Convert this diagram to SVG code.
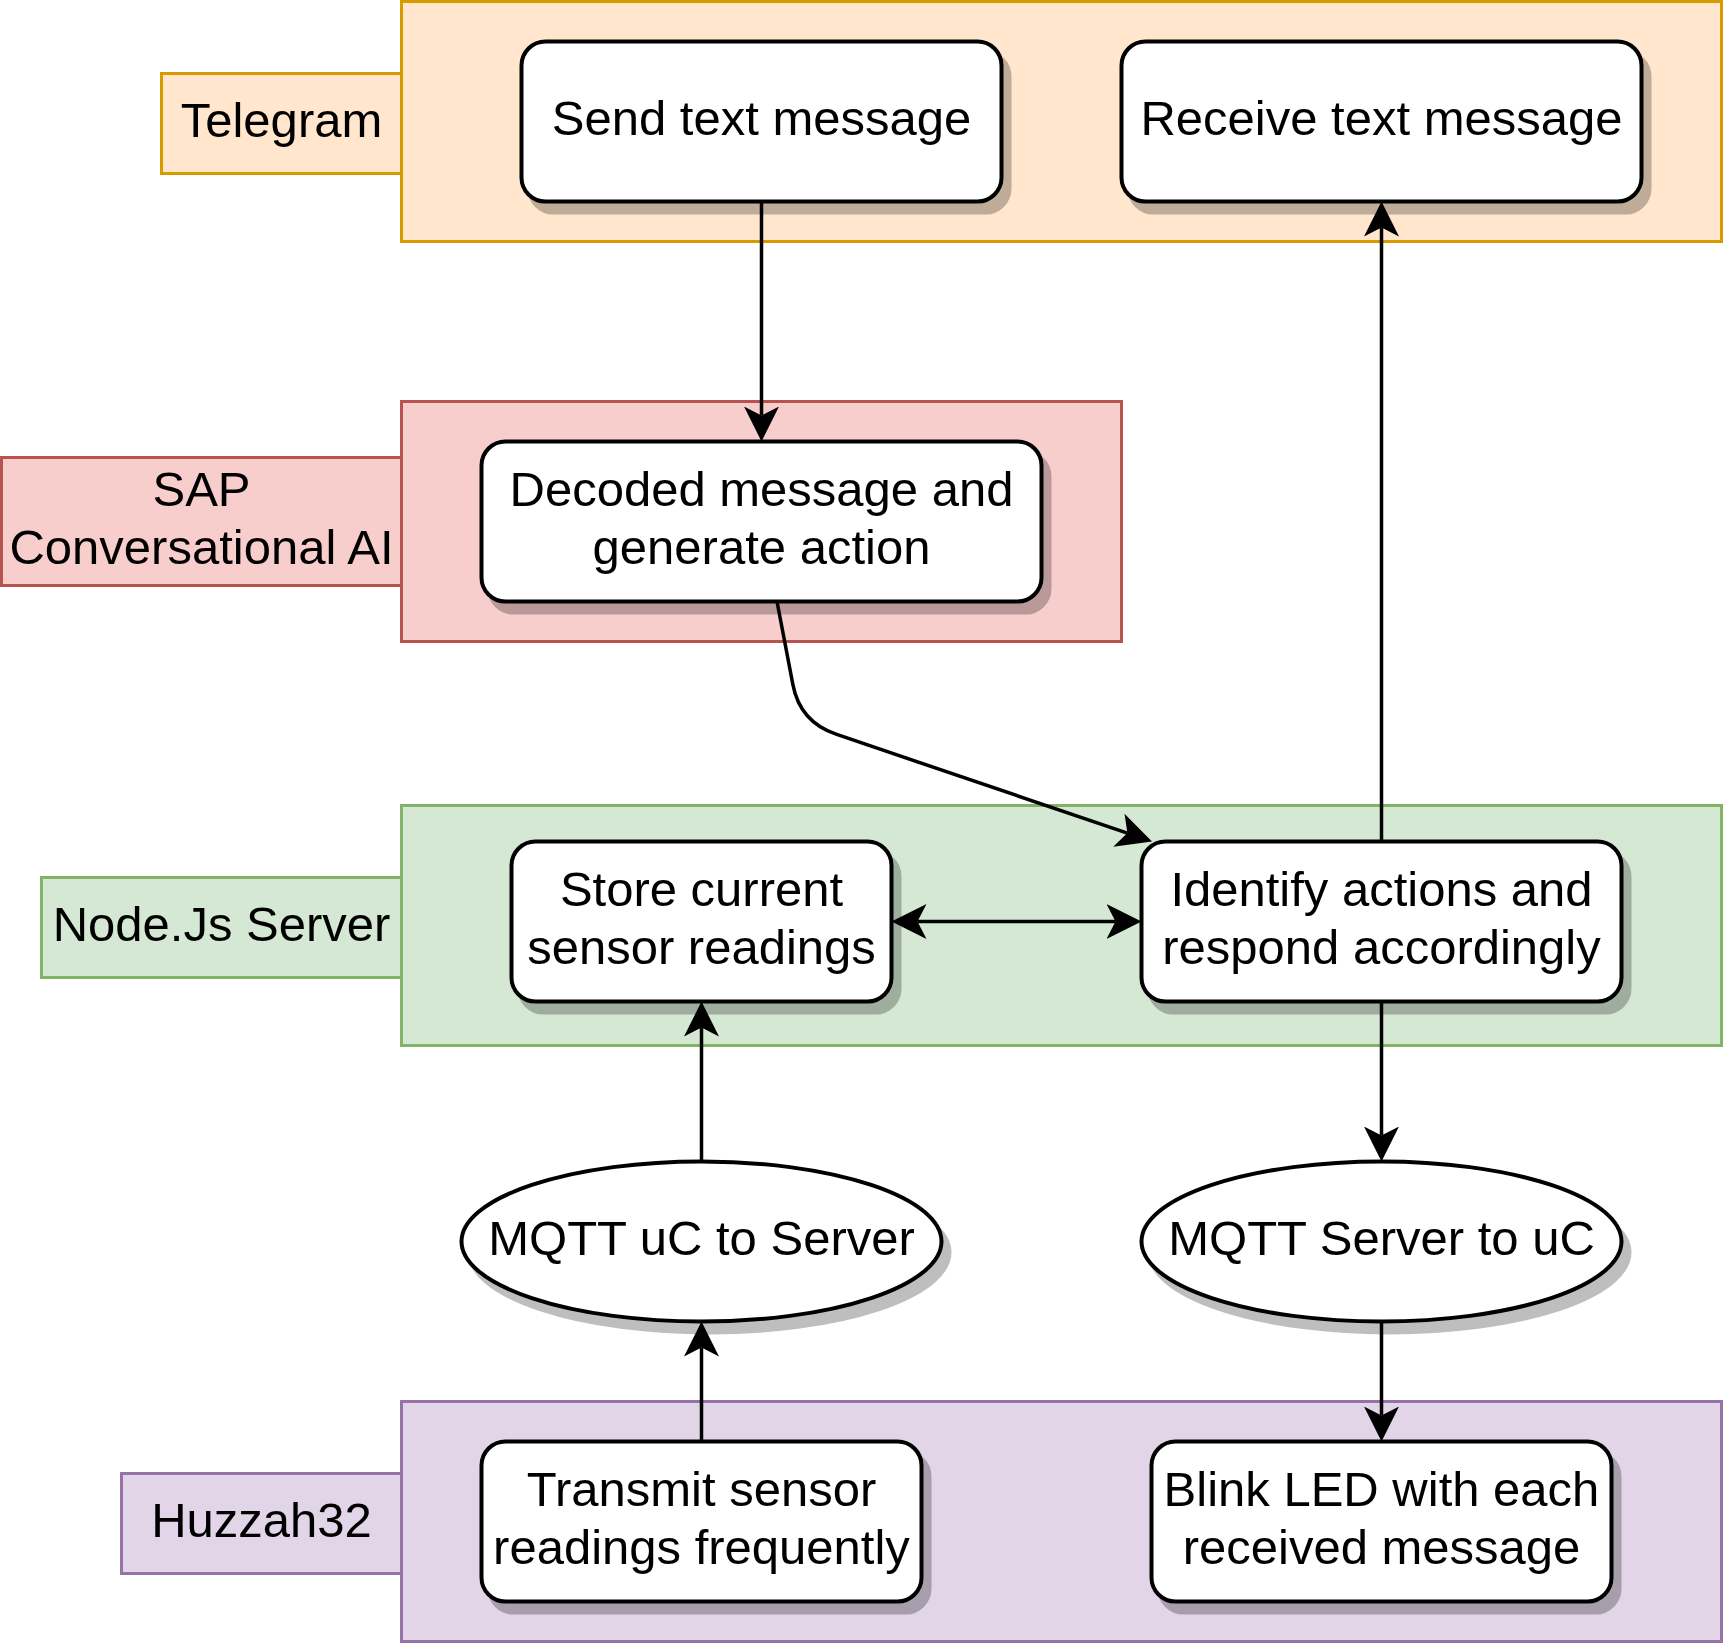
<svg xmlns="http://www.w3.org/2000/svg" width="1724" height="1648" viewBox="0 0 1724 1648">
<style>
.t{font-family:"Liberation Sans",Arial,Helvetica,sans-serif;font-size:49px;fill:#000;text-anchor:middle}
.box{fill:#fff;stroke:#000;stroke-width:4}
.sh{fill:#000;stroke:#000;stroke-width:4;opacity:.25}
.cont{stroke-width:3}
.or{fill:#ffe6cc;stroke:#d79b00}
.rd{fill:#f8cecc;stroke:#b85450}
.gr{fill:#d5e8d4;stroke:#82b366}
.pu{fill:#e1d5e7;stroke:#9673a6}
.edge{fill:none;stroke:#000;stroke-width:3.5;marker-end:url(#arr)}
</style>
<defs>
<marker id="arr" markerUnits="userSpaceOnUse" markerWidth="36" markerHeight="36" viewBox="0 0 36 36" refX="9" refY="18" orient="auto-start-reverse">
<path d="M35,18 L0,0.5 L9,18 L0,35.5 Z" fill="#000"/>
</marker>
</defs>
<rect width="1724" height="1648" fill="#fff"/>

<g id="lane-telegram">
<rect class="cont or" x="401.5" y="1.5" width="1320" height="240"/>
<rect class="cont or" x="161.5" y="73.5" width="240" height="100"/>
<text class="t" x="281.5" y="137">Telegram</text>
</g>
<g id="lane-sap">
<rect class="cont rd" x="401.5" y="401.5" width="720" height="240"/>
<rect class="cont rd" x="1.5" y="457.5" width="400" height="128"/>
<text class="t" x="201.5" y="506">SAP</text>
<text class="t" x="201.5" y="563.5">Conversational AI</text>
</g>
<g id="lane-node">
<rect class="cont gr" x="401.5" y="805.5" width="1320" height="240"/>
<rect class="cont gr" x="41.5" y="877.5" width="360" height="100"/>
<text class="t" x="221.5" y="941">Node.Js Server</text>
</g>
<g id="lane-huzzah">
<rect class="cont pu" x="401.5" y="1401.5" width="1320" height="240"/>
<rect class="cont pu" x="121.5" y="1473.5" width="280" height="100"/>
<text class="t" x="261.5" y="1537">Huzzah32</text>
</g>

<g id="send">
<rect class="sh" x="529.5" y="52.5" width="480" height="160" rx="24"/>
<rect class="box" x="521.5" y="41.5" width="480" height="160" rx="24"/>
<text class="t" x="761.5" y="135">Send text message</text>
</g>
<g id="receive">
<rect class="sh" x="1129.5" y="52.5" width="520" height="160" rx="24"/>
<rect class="box" x="1121.5" y="41.5" width="520" height="160" rx="24"/>
<text class="t" x="1381.5" y="135">Receive text message</text>
</g>
<g id="decoded">
<rect class="sh" x="489.5" y="452.5" width="560" height="160" rx="24"/>
<rect class="box" x="481.5" y="441.5" width="560" height="160" rx="24"/>
<text class="t" x="761.5" y="506">Decoded message and</text>
<text class="t" x="761.5" y="563.5">generate action</text>
</g>
<g id="store">
<rect class="sh" x="519.5" y="852.5" width="380" height="160" rx="24"/>
<rect class="box" x="511.5" y="841.5" width="380" height="160" rx="24"/>
<text class="t" x="701.5" y="906">Store current</text>
<text class="t" x="701.5" y="963.5">sensor readings</text>
</g>
<g id="identify">
<rect class="sh" x="1149.5" y="852.5" width="480" height="160" rx="24"/>
<rect class="box" x="1141.5" y="841.5" width="480" height="160" rx="24"/>
<text class="t" x="1381.5" y="906">Identify actions and</text>
<text class="t" x="1381.5" y="963.5">respond accordingly</text>
</g>
<g id="mqtt-uc-server">
<ellipse class="sh" cx="709.5" cy="1252.5" rx="240" ry="80"/>
<ellipse class="box" cx="701.5" cy="1241.5" rx="240" ry="80"/>
<text class="t" x="701.5" y="1255">MQTT uC to Server</text>
</g>
<g id="mqtt-server-uc">
<ellipse class="sh" cx="1389.5" cy="1252.5" rx="240" ry="80"/>
<ellipse class="box" cx="1381.5" cy="1241.5" rx="240" ry="80"/>
<text class="t" x="1381.5" y="1255">MQTT Server to uC</text>
</g>
<g id="transmit">
<rect class="sh" x="489.5" y="1452.5" width="440" height="160" rx="24"/>
<rect class="box" x="481.5" y="1441.5" width="440" height="160" rx="24"/>
<text class="t" x="701.5" y="1506">Transmit sensor</text>
<text class="t" x="701.5" y="1563.5">readings frequently</text>
</g>
<g id="blink">
<rect class="sh" x="1159.5" y="1452.5" width="460" height="160" rx="24"/>
<rect class="box" x="1151.5" y="1441.5" width="460" height="160" rx="24"/>
<text class="t" x="1381.5" y="1506">Blink LED with each</text>
<text class="t" x="1381.5" y="1563.5">received message</text>
</g>

<g id="connectors">
<path class="edge" d="M761.5,201.5 L761.5,415.5"/>
<path class="edge" d="M777,601.5 L792.9,684.7 Q800,722 836,734.2 L1127.4,833.1"/>
<path class="edge" d="M1381.5,841.5 L1381.5,227.5"/>
<path class="edge" d="M917.5,921.5 L1115.5,921.5" style="marker-start:url(#arr)"/>
<path class="edge" d="M701.5,1161.5 L701.5,1027.5"/>
<path class="edge" d="M701.5,1441.5 L701.5,1347.5"/>
<path class="edge" d="M1381.5,1001.5 L1381.5,1135.5"/>
<path class="edge" d="M1381.5,1321.5 L1381.5,1415.5"/>
</g>
</svg>
